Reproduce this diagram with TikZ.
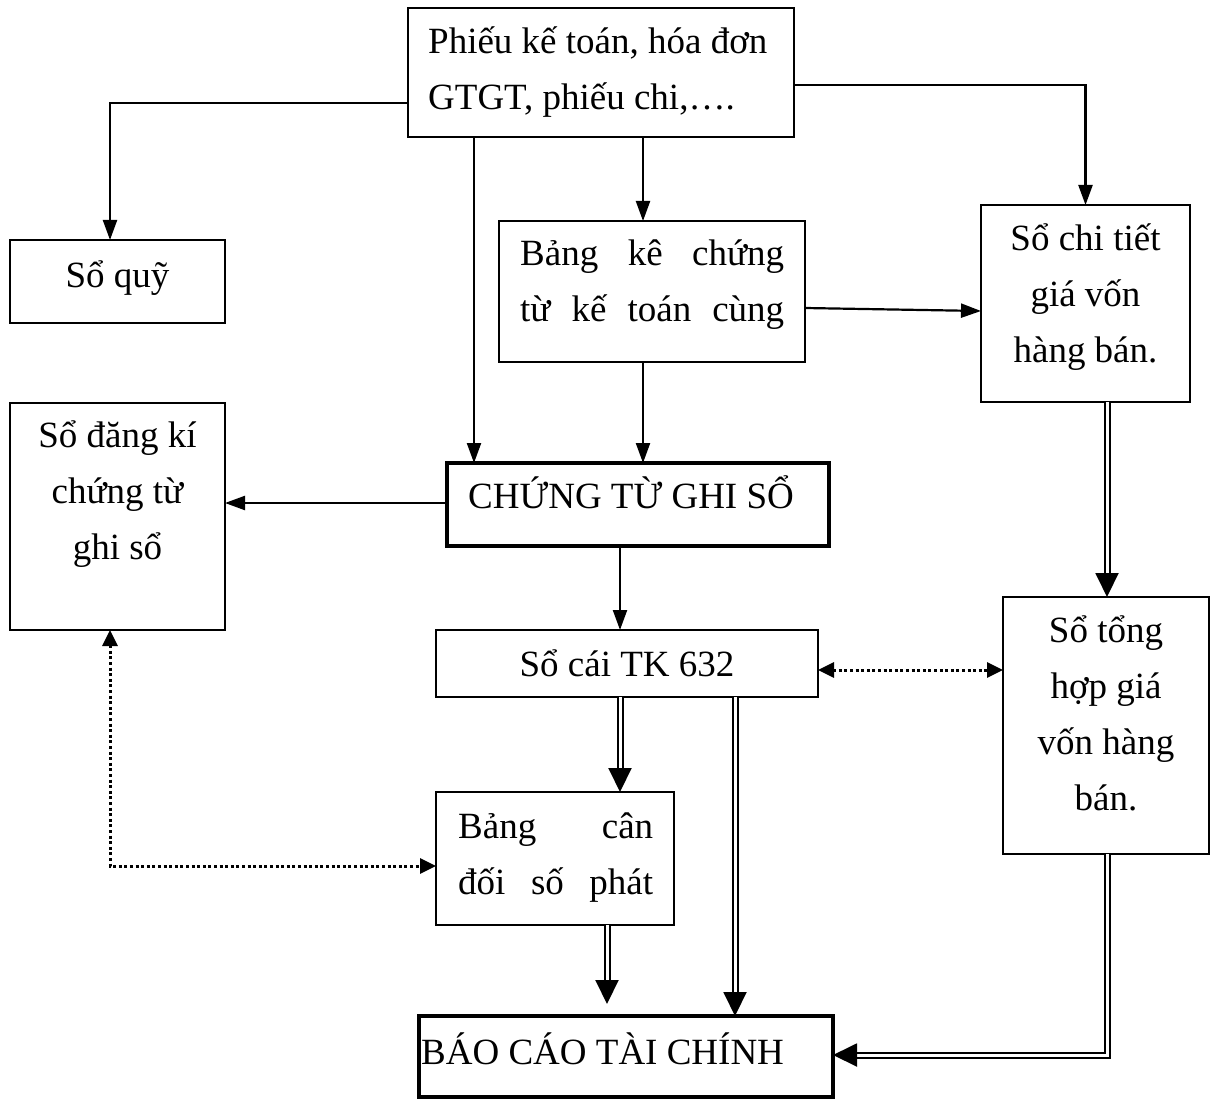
\documentclass[tikz,border=0pt]{standalone}
\usepackage{fontspec}
\setmainfont{Liberation Serif}
\usetikzlibrary{arrows.meta}
\begin{document}
\begin{tikzpicture}[x=1pt,y=-1pt,
  box/.style={draw, line width=2.2pt, inner sep=0pt, outer sep=0pt},
  thickbox/.style={box, line width=3.6pt},
  txt/.style={inner sep=0pt, font=\fontsize{37}{56}\selectfont},
  arr/.style={line width=2.2pt, -{Triangle[length=20pt,width=14pt]}},
  dots/.style={line width=3pt, dash pattern=on 3pt off 2.6pt,
    {Triangle[length=16pt,width=15pt]}-{Triangle[length=16pt,width=15pt]}},
  dbl/.style={line width=2pt, double, double distance=3pt,
    -{Triangle[length=24pt,width=23pt]}},
]
\useasboundingbox (0,0) rectangle (1214,1099);

% boxes
\node[box, minimum width=386pt, minimum height=129pt] (src)  at (601,72.5)   {};
\node[box, minimum width=215pt, minimum height=83pt]  (quy)  at (117.5,281.5) {};
\node[box, minimum width=306pt, minimum height=141pt] (bk)   at (652,291.5)  {};
\node[box, minimum width=209pt, minimum height=197pt] (sct)  at (1085.5,303.5) {};
\node[box, minimum width=215pt, minimum height=227pt] (sdk)  at (117.5,516.5) {};
\node[thickbox, minimum width=382pt, minimum height=83pt] (ctgs) at (638,504.5) {};
\node[box, minimum width=382pt, minimum height=67pt]  (sc)   at (627,663.5)  {};
\node[box, minimum width=206pt, minimum height=257pt] (sth)  at (1106,725.5) {};
\node[box, minimum width=238pt, minimum height=133pt] (bcd)  at (555,858.5)  {};
\node[thickbox, minimum width=414pt, minimum height=81pt] (bctc) at (626,1056.5) {};

% texts
\node[txt, anchor=north west, align=left] (srcT) at (428,13.8)
  {\strut Phiếu kế toán, hóa đơn\\GTGT, phiếu chi,….};
\node[txt, anchor=base] (quyT) at (117.5,287) {Sổ quỹ};
\node[txt, anchor=north west, align=left] (bkT) at (520,225.8)
  {\strut\makebox[264pt][s]{Bảng kê chứng}\\\makebox[264pt][s]{từ kế toán cùng}};
\node[txt, anchor=north, align=center] (sctT) at (1085.5,210.8)
  {\strut Sổ chi tiết\\giá vốn\\hàng bán.};
\node[txt, anchor=north, align=center] (sdkT) at (117.5,407.8)
  {\strut Sổ đăng kí\\chứng từ\\ghi sổ};
\node[txt, anchor=base west] (ctgsT) at (468,508) {CHỨNG TỪ GHI SỔ};
\node[txt, anchor=base] (scT) at (627,676) {Sổ cái TK 632};
\node[txt, anchor=north, align=center] (sthT) at (1106,602.8)
  {\strut Sổ tổng\\hợp giá\\vốn hàng\\bán.};
\node[txt, anchor=north west, align=left] (bcdT) at (458,798.8)
  {\strut\makebox[195pt][s]{Bảng cân}\\\makebox[195pt][s]{đối số phát}};
\node[txt, anchor=base west] (bctcT) at (421,1064) {BÁO CÁO TÀI CHÍNH};

% single arrows
\draw[arr] (src.west |- 0,103) -| (quy.north -| 110,0);
\draw[arr] (src.south -| 474,0) -- (ctgs.north -| 474,0);
\draw[arr] (src.south -| 643,0) -- (bk.north -| 643,0);
\draw[arr] (src.east |- 0,85) -| (sct.north);
\draw[arr] (bk.east |- 0,308) -- (sct.west |- 0,311);
\draw[arr] (bk.south -| 643,0) -- (ctgs.north -| 643,0);
\draw[arr] (ctgs.west |- 0,503) -- (sdk.east |- 0,503);
\draw[arr] (ctgs.south -| 620,0) -- (sc.north -| 620,0);

% dotted two-way links
\draw[dots] (sc.east |- 0,670) -- (sth.west |- 0,670);
\draw[dots] (sdk.south -| 110,0) |- (bcd.west |- 0,866);

% double arrows
\draw[dbl] (sct.south -| 1107,0) -- (sth.north -| 1107,0);
\draw[dbl] (sc.south -| 620,0) -- (bcd.north -| 620,0);
\draw[dbl] (sc.south -| 735,0) -- (bctc.north -| 735,0);
\draw[dbl, shorten >=12pt] (bcd.south -| 607,0) -- (bctc.north -| 607,0);
\draw[dbl] (sth.south -| 1107,0) |- (bctc.east |- 0,1055);
\end{tikzpicture}
\end{document}
